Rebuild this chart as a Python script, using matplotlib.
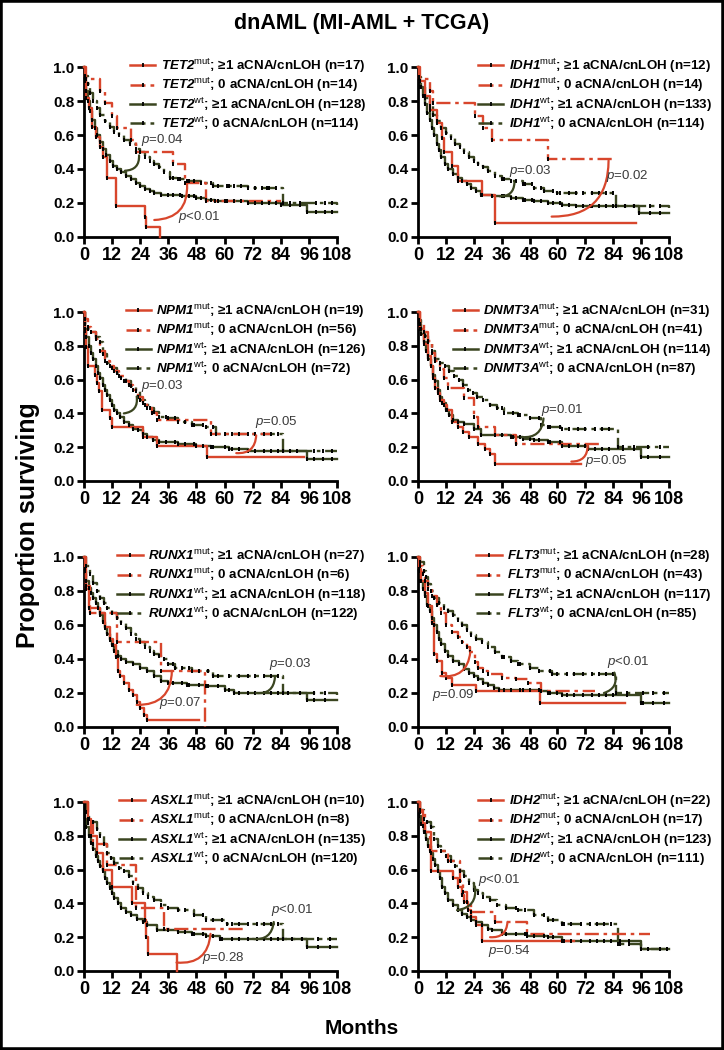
import matplotlib
matplotlib.use("Agg")
import matplotlib.pyplot as plt
import numpy as np
from matplotlib.lines import Line2D
from matplotlib.patches import Rectangle

plt.rcParams['font.family'] = ['Liberation Sans', 'DejaVu Sans']
plt.rcParams['mathtext.fontset'] = 'custom'
plt.rcParams['mathtext.rm'] = 'Liberation Sans'
plt.rcParams['mathtext.it'] = 'Liberation Sans:italic'
plt.rcParams['mathtext.bf'] = 'Liberation Sans:italic:bold'
plt.rcParams['mathtext.sf'] = 'Liberation Sans'

# panels, in reading order
genes = ['TET2', 'IDH1', 'NPM1', 'DNMT3A', 'RUNX1', 'FLT3', 'ASXL1', 'IDH2']
n_counts = [[17, 14, 128, 114], [12, 14, 133, 114], [19, 56, 126, 72], [31, 41, 114, 87],
            [27, 6, 118, 122], [28, 43, 117, 85], [10, 8, 135, 120], [22, 17, 123, 111]]

# KM curves per panel: [mut >=1, mut 0, wt >=1, wt 0]; last point = end of follow-up
tet2_t = [[0, 0.5, 1, 2, 3.5, 5, 7, 8, 10, 13.5, 26, 26.5, 32.5],
          [0, 1, 7, 9, 12, 14, 20, 22, 38, 43, 52, 84],
          [0, 0.5, 1, 1.5, 2.5, 3.5, 4.5, 5.5, 7, 8, 9.5, 11, 12.5, 14, 16, 18, 20, 22, 24, 26, 28, 30, 33, 36, 42, 48, 52, 56, 60, 70, 84, 95, 108],
          [0, 0.5, 1.5, 2.5, 4, 5.5, 7, 9, 11, 13, 15, 17, 19.5, 22, 24, 26, 28, 30, 32, 34, 36.5, 40, 44, 50, 55, 62, 70, 78, 85, 108]]
tet2_s = [[1, 0.94, 0.82, 0.76, 0.65, 0.59, 0.53, 0.47, 0.35, 0.18, 0.12, 0.06, 0.0],
          [1, 0.93, 0.86, 0.79, 0.71, 0.64, 0.57, 0.5, 0.43, 0.32, 0.21, 0.21],
          [1, 0.92, 0.86, 0.8, 0.74, 0.69, 0.64, 0.6, 0.56, 0.52, 0.48, 0.45, 0.42, 0.4, 0.38, 0.36, 0.34, 0.32, 0.3, 0.28, 0.27, 0.26, 0.25, 0.25, 0.24, 0.23, 0.22, 0.21, 0.21, 0.2, 0.19, 0.15, 0.15],
          [1, 0.95, 0.9, 0.85, 0.8, 0.76, 0.72, 0.68, 0.65, 0.62, 0.6, 0.57, 0.55, 0.52, 0.5, 0.47, 0.45, 0.43, 0.41, 0.38, 0.35, 0.34, 0.33, 0.32, 0.3, 0.3, 0.29, 0.29, 0.2, 0.19]]

idh1_t = [[0, 1, 3, 5, 8, 10.5, 11, 14.5, 17, 27.5, 33, 94],
          [0, 0.5, 5, 6.5, 24.5, 28, 32, 56, 85],
          [0, 0.5, 1, 2, 3, 4, 5, 6, 7, 8, 9, 10, 11.5, 13, 15, 17, 19, 21, 23, 25, 27, 32, 36, 40, 45, 50, 56, 62, 68, 74, 95, 108],
          [0, 0.5, 1.5, 3, 5, 6.5, 8, 10, 12, 14, 16, 18, 20, 22, 24, 26, 28, 30, 33, 36, 40, 45, 50, 54, 60, 85, 108]]
idh1_s = [[1, 0.92, 0.83, 0.75, 0.67, 0.58, 0.5, 0.42, 0.33, 0.25, 0.083, 0.083],
          [1, 0.93, 0.86, 0.79, 0.71, 0.64, 0.57, 0.46, 0.46],
          [1, 0.93, 0.88, 0.83, 0.78, 0.73, 0.69, 0.64, 0.6, 0.55, 0.51, 0.47, 0.43, 0.4, 0.37, 0.35, 0.33, 0.31, 0.29, 0.27, 0.25, 0.24, 0.24, 0.23, 0.22, 0.21, 0.2, 0.19, 0.18, 0.18, 0.14, 0.14],
          [1, 0.94, 0.88, 0.82, 0.77, 0.72, 0.68, 0.64, 0.61, 0.58, 0.55, 0.53, 0.5, 0.47, 0.45, 0.43, 0.41, 0.39, 0.36, 0.34, 0.33, 0.31, 0.29, 0.27, 0.26, 0.18, 0.17]]

npm1_t = [[0, 0.5, 1, 1.5, 4.5, 5.5, 6.5, 7.5, 11, 12, 25, 31, 52.5, 94],
          [0, 0.5, 1.5, 3, 5, 7, 9, 11, 13, 15, 17, 19, 21, 23, 25, 27, 29, 31, 54, 80],
          [0, 0.5, 1, 2, 3, 4, 5, 6, 7, 8, 9, 10, 11, 12, 13, 14, 15.5, 17, 19, 21, 23, 25, 27, 29.5, 32, 40, 48, 54, 62, 70, 95, 108],
          [0, 0.5, 1.5, 3, 5, 7, 8, 10, 12, 14, 16, 18, 20, 22, 24, 26, 28, 30, 32, 36, 40, 46, 52, 56.5, 85, 108]]
npm1_s = [[1, 0.89, 0.79, 0.68, 0.63, 0.58, 0.53, 0.42, 0.37, 0.32, 0.26, 0.21, 0.14, 0.14],
          [1, 0.96, 0.91, 0.88, 0.84, 0.77, 0.71, 0.68, 0.65, 0.62, 0.59, 0.57, 0.54, 0.5, 0.46, 0.43, 0.4, 0.36, 0.28, 0.28],
          [1, 0.9, 0.85, 0.8, 0.76, 0.72, 0.68, 0.64, 0.61, 0.57, 0.54, 0.51, 0.48, 0.45, 0.42, 0.4, 0.38, 0.35, 0.33, 0.31, 0.3, 0.28, 0.26, 0.24, 0.23, 0.22, 0.21, 0.2, 0.19, 0.18, 0.13, 0.13],
          [1, 0.93, 0.9, 0.88, 0.85, 0.82, 0.75, 0.7, 0.67, 0.64, 0.61, 0.59, 0.56, 0.53, 0.48, 0.45, 0.43, 0.41, 0.38, 0.37, 0.35, 0.33, 0.32, 0.28, 0.18, 0.18]]

dnmt3a_t = [[0, 1, 2.5, 4.5, 5.5, 6.5, 7.5, 8.5, 9.5, 11, 12.5, 14.5, 17, 19.5, 22, 26, 29, 31, 33, 70],
            [0, 1, 2.5, 4.5, 6, 7.5, 9.5, 11, 13, 20, 24, 26, 33, 42, 79],
            [0, 0.5, 1.5, 2.5, 3.5, 4.5, 5.5, 6.5, 7.5, 8.5, 9.5, 10.5, 12, 13.5, 15, 17, 20, 24, 27, 40, 45, 50, 56, 62, 73, 96, 108],
            [0, 0.5, 1.5, 3, 4.5, 6, 7.5, 9.5, 11.5, 13.5, 15.5, 17.5, 19.5, 21.5, 23.5, 25.5, 28, 31, 34, 37, 43, 48, 53, 56, 62, 86, 108]]
dnmt3a_s = [[1, 0.9, 0.81, 0.74, 0.68, 0.61, 0.55, 0.52, 0.48, 0.45, 0.42, 0.35, 0.32, 0.29, 0.26, 0.22, 0.19, 0.16, 0.1, 0.1],
            [1, 0.93, 0.88, 0.83, 0.76, 0.71, 0.66, 0.61, 0.55, 0.49, 0.38, 0.32, 0.27, 0.22, 0.22],
            [1, 0.93, 0.87, 0.82, 0.77, 0.72, 0.68, 0.63, 0.59, 0.54, 0.5, 0.46, 0.42, 0.39, 0.36, 0.35, 0.34, 0.31, 0.27, 0.26, 0.25, 0.24, 0.23, 0.21, 0.19, 0.14, 0.14],
            [1, 0.95, 0.9, 0.86, 0.82, 0.77, 0.72, 0.7, 0.68, 0.65, 0.62, 0.6, 0.57, 0.54, 0.52, 0.5, 0.48, 0.45, 0.43, 0.4, 0.39, 0.37, 0.33, 0.32, 0.31, 0.2, 0.2]]

runx1_t = [[0, 0.5, 1, 2, 7, 9, 11, 12.5, 13.5, 14.5, 15.5, 17, 19, 21, 22.5, 24, 25.5, 27, 49],
           [0, 1, 2.5, 14, 33, 51.5],
           [0, 0.5, 1, 2, 3, 4, 5, 6, 7, 8, 9, 10, 11, 12, 13, 14.5, 16, 18, 21, 24, 27, 30, 33, 36, 44, 52, 60, 64, 95, 108],
           [0, 1, 2.5, 4, 5.5, 7, 8.5, 10, 12, 14, 16, 18, 20, 22, 24, 26, 28, 30, 32, 34, 36, 39, 46, 55, 85, 108]]
runx1_s = [[1, 0.93, 0.81, 0.7, 0.67, 0.59, 0.52, 0.48, 0.41, 0.33, 0.3, 0.26, 0.22, 0.19, 0.15, 0.11, 0.07, 0.04, 0.04],
           [1, 0.83, 0.67, 0.5, 0.33, 0.0],
           [1, 0.92, 0.86, 0.82, 0.79, 0.76, 0.73, 0.7, 0.66, 0.62, 0.58, 0.55, 0.51, 0.48, 0.45, 0.42, 0.4, 0.38, 0.37, 0.35, 0.33, 0.3, 0.27, 0.26, 0.25, 0.24, 0.22, 0.2, 0.16, 0.16],
           [1, 0.95, 0.9, 0.85, 0.8, 0.76, 0.73, 0.7, 0.67, 0.64, 0.61, 0.58, 0.55, 0.52, 0.5, 0.47, 0.45, 0.43, 0.42, 0.4, 0.37, 0.35, 0.33, 0.3, 0.2, 0.19]]

flt3_t = [[0, 0.5, 1.5, 3, 4.5, 6, 6.8, 8, 10.5, 12, 14.5, 25, 52.5, 89],
          [0, 1, 2, 3, 4.5, 6, 8, 10, 12, 14.5, 17, 19, 21, 22.5, 24.5, 26, 28, 30, 36, 42, 47.5, 53, 76],
          [0, 0.5, 1, 2, 3, 4, 5, 6, 7, 8, 9, 10, 11.5, 13, 15, 17.5, 20, 22, 24, 26, 28, 30, 32.5, 35, 45, 53, 56, 62, 96, 108],
          [0, 1, 2.5, 3.5, 4.5, 5.5, 7, 9, 11, 13, 15, 17, 19, 21, 23, 25, 27.5, 30, 33, 36, 40, 43, 48, 52, 57.5, 85, 108]]
flt3_s = [[1, 0.93, 0.86, 0.79, 0.71, 0.61, 0.43, 0.39, 0.32, 0.29, 0.25, 0.21, 0.14, 0.14],
          [1, 0.95, 0.9, 0.86, 0.81, 0.77, 0.72, 0.67, 0.6, 0.56, 0.53, 0.5, 0.47, 0.44, 0.38, 0.35, 0.33, 0.31, 0.29, 0.28, 0.26, 0.21, 0.21],
          [1, 0.92, 0.86, 0.81, 0.77, 0.72, 0.68, 0.64, 0.6, 0.56, 0.52, 0.49, 0.45, 0.42, 0.39, 0.37, 0.34, 0.32, 0.3, 0.28, 0.26, 0.25, 0.23, 0.22, 0.22, 0.21, 0.2, 0.19, 0.14, 0.14],
          [1, 0.97, 0.92, 0.88, 0.84, 0.8, 0.76, 0.73, 0.7, 0.68, 0.66, 0.63, 0.6, 0.57, 0.54, 0.52, 0.5, 0.47, 0.44, 0.41, 0.39, 0.37, 0.35, 0.33, 0.31, 0.2, 0.2]]

asxl1_t = [[0, 1.5, 3, 5.5, 8, 12, 20.5, 26, 26.5, 27.5, 39.5],
           [0, 1.5, 4, 10, 22, 34, 69],
           [0, 0.5, 1, 2, 3, 4, 5, 6, 7, 8, 9, 10, 11, 12, 13, 14.5, 16, 18, 20, 22.5, 25, 27, 31, 40, 46, 52, 58, 95, 108],
           [0, 1, 2, 4, 5.5, 7, 8.5, 10, 11.5, 13, 15, 17, 19, 21, 23, 25, 27.5, 30, 33, 36, 40, 47, 52, 61, 85, 108]]
asxl1_s = [[1, 0.9, 0.8, 0.7, 0.6, 0.5, 0.4, 0.3, 0.2, 0.1, 0.0],
           [1, 0.875, 0.75, 0.625, 0.375, 0.25, 0.25],
           [1, 0.9, 0.85, 0.8, 0.76, 0.72, 0.68, 0.65, 0.62, 0.59, 0.55, 0.52, 0.49, 0.46, 0.43, 0.4, 0.37, 0.35, 0.33, 0.31, 0.29, 0.27, 0.24, 0.23, 0.22, 0.21, 0.19, 0.14, 0.14],
           [1, 0.94, 0.9, 0.88, 0.84, 0.8, 0.75, 0.7, 0.67, 0.64, 0.61, 0.59, 0.56, 0.52, 0.49, 0.46, 0.44, 0.42, 0.39, 0.37, 0.36, 0.33, 0.3, 0.28, 0.19, 0.19]]

idh2_t = [[0, 1, 2, 3, 5.5, 15, 17, 19, 20, 21.5, 23, 25, 27.5, 67],
          [0, 1, 3, 5, 13, 18, 19.5, 21, 23, 33, 47, 100],
          [0, 0.5, 1.5, 2.5, 3.5, 4.5, 5.5, 6.5, 7.5, 8.5, 9.5, 10.5, 11.5, 13, 15, 17, 19, 21, 23, 25, 27.5, 30, 32, 36, 47, 56, 62, 96, 108],
          [0, 1, 2.5, 4, 5.5, 7, 8.5, 10, 12, 14, 16, 18, 20, 22, 24, 26, 28, 31, 34, 38, 43, 50, 56, 62, 86, 96, 108]]
idh2_s = [[1, 0.95, 0.86, 0.82, 0.59, 0.55, 0.5, 0.45, 0.41, 0.36, 0.32, 0.27, 0.18, 0.18],
          [1, 0.94, 0.82, 0.71, 0.65, 0.53, 0.47, 0.41, 0.35, 0.29, 0.22, 0.22],
          [1, 0.92, 0.87, 0.82, 0.78, 0.74, 0.7, 0.66, 0.63, 0.59, 0.55, 0.5, 0.46, 0.42, 0.39, 0.36, 0.34, 0.32, 0.3, 0.29, 0.27, 0.25, 0.24, 0.22, 0.21, 0.2, 0.18, 0.13, 0.13],
          [1, 0.95, 0.9, 0.88, 0.85, 0.78, 0.74, 0.71, 0.68, 0.65, 0.62, 0.59, 0.56, 0.52, 0.48, 0.46, 0.44, 0.42, 0.39, 0.37, 0.36, 0.33, 0.3, 0.28, 0.16, 0.13, 0.13]]

panel_t = [tet2_t, idh1_t, npm1_t, dnmt3a_t, runx1_t, flt3_t, asxl1_t, idh2_t]
panel_s = [tet2_s, idh1_s, npm1_s, dnmt3a_s, runx1_s, flt3_s, asxl1_s, idh2_s]

# censored observations on the wt curves (months)
cens_wt = [[38, 41, 45, 47, 50, 54, 57, 61, 64, 67, 70, 73, 76, 79, 82, 88, 92, 99, 103, 106],
           [37, 42, 46, 49, 53, 58, 61, 65, 68, 71, 75, 78, 81, 84, 89, 93, 100, 104],
           [35, 39, 43, 47, 51, 55, 60, 63, 66, 70, 73, 77, 80, 83, 88, 91, 98, 102, 106],
           [36, 41, 44, 48, 52, 57, 61, 65, 69, 72, 76, 79, 82, 88, 93, 99, 104],
           [38, 42, 45, 49, 53, 57, 62, 66, 70, 73, 77, 80, 83, 87, 92, 98, 103],
           [37, 40, 44, 48, 52, 57, 60, 64, 67, 71, 75, 78, 81, 84, 90, 97, 101, 106],
           [36, 40, 43, 47, 51, 55, 59, 63, 66, 70, 74, 77, 80, 83, 89, 93, 100, 105],
           [38, 42, 46, 50, 54, 58, 63, 66, 70, 74, 77, 80, 83, 87, 91, 99, 104, 107]]

# p-value brackets: [wt comparison, mut comparison] -> (x1, y1, x2, y2)
arc_wt = [(17.5, 0.39, 23.5, 0.48), (35, 0.24, 41.5, 0.32), (17, 0.4, 22.5, 0.5), (44.5, 0.26, 54, 0.37),
          (73.5, 0.2, 81.5, 0.29), (80, 0.2, 84.5, 0.32), (72, 0.19, 81, 0.29), (16.8, 0.36, 24.5, 0.5)]
arc_mut = [(30, 0.1, 44, 0.31), (57.5, 0.12, 82, 0.45), (65, 0.165, 73.5, 0.27), (66, 0.115, 73, 0.21),
           (22.5, 0.13, 37.5, 0.33), (9.6, 0.3, 22.5, 0.44), (39.5, 0.05, 54, 0.22), (31, 0.2, 38.5, 0.29)]
p_wt = ['=0.04', '=0.03', '=0.03', '=0.01', '=0.03', '<0.01', '<0.01', '<0.01']
p_mut = ['<0.01', '=0.02', '=0.05', '=0.05', '=0.07', '=0.09', '=0.28', '=0.54']
p_wt_pos = [(24.5, 0.57), (39, 0.39), (24.5, 0.56), (53, 0.42), (79, 0.37), (81.5, 0.38), (80, 0.36), (26, 0.54)]
p_mut_pos = [(40, 0.12), (81, 0.36), (73, 0.35), (72, 0.12), (32, 0.14), (6, 0.19), (50.5, 0.075), (30, 0.12)]

RED = '#d8462c'
OLIVE = '#3a4520'
colors = [RED, RED, OLIVE, OLIVE]
dashdot = (0, (6, 2, 1.5, 2))
styles = ['-', dashdot, '-', dashdot]

fig = plt.figure(figsize=(7.24, 10.5), dpi=100)
W, H = 724.0, 1050.0
rows_px = [(67, 237), (312, 481), (557, 727), (802, 971)]
cols_px = [(84, 337), (418, 669)]

for k, gene in enumerate(genes):
    r, c = divmod(k, 2)
    top, bot = rows_px[r]
    x0, x1 = cols_px[c]
    ax = fig.add_axes([x0 / W, 1 - bot / H, (x1 - x0) / W, (bot - top) / H])

    order = [2, 3, 0, 1]
    for j in order:
        t = panel_t[k][j]
        s = panel_s[k][j]
        ax.step(t, s, where='post', color=colors[j], ls=styles[j], lw=1.7,
                clip_on=False, zorder=3 if j < 2 else 2)
        ax.plot(t[1:-1], s[1:-1], ls='none', marker='|', ms=3.5, mew=1.4,
                color='black', clip_on=False, zorder=4)
        if j >= 2:
            ct = [x for x in cens_wt[k] if x < t[-1]]
            idx = np.searchsorted(t, ct, side='right') - 1
            ax.plot(ct, np.array(s)[idx], ls='none', marker='|', ms=3.5, mew=1.4,
                    color='black', clip_on=False, zorder=4)

    # p-value brackets
    for arc, col in [(arc_wt[k], OLIVE), (arc_mut[k], RED)]:
        ax.annotate('', xy=(arc[2], arc[3]), xytext=(arc[0], arc[1]),
                    arrowprops=dict(arrowstyle='-', color=col, lw=1.6,
                                    connectionstyle='arc3,rad=0.5',
                                    shrinkA=0, shrinkB=0), zorder=5)
    for txt, pos in [(p_wt[k], p_wt_pos[k]), (p_mut[k], p_mut_pos[k])]:
        ax.text(pos[0], pos[1], r'$\mathit{p}$' + txt, fontsize=9.5, color='#3a3a3a',
                ha='left', va='center', zorder=6)

    ax.set_xlim(0, 108)
    ax.set_ylim(0, 1)
    ax.set_xticks(np.arange(0, 109, 12))
    ax.set_yticks([0, 0.2, 0.4, 0.6, 0.8, 1.0])
    ax.set_yticklabels(['0.0', '0.2', '0.4', '0.6', '0.8', '1.0'])
    for lab in ax.get_xticklabels():
        lab.set_fontweight('bold')
        lab.set_fontsize(13)
    for lab in ax.get_yticklabels():
        lab.set_fontweight('bold')
        lab.set_fontsize(11)
    ax.tick_params(width=2, length=5, direction='out', pad=2)
    for sp in ['top', 'right']:
        ax.spines[sp].set_visible(False)
    for sp in ['left', 'bottom']:
        ax.spines[sp].set_linewidth(2)

    handles = []
    labels = []
    tags = ['mut', 'mut', 'wt', 'wt']
    groups = ['≥1', '0', '≥1', '0']
    for j in range(4):
        handles.append(Line2D([], [], color=colors[j], ls=styles[j], lw=1.8,
                              marker='|', ms=3.5, mew=1.3, mec='black'))
        labels.append(r'$\mathbf{%s}^{\mathsf{%s}}$; %s aCNA/cnLOH (n=%d)'
                      % (gene, tags[j], groups[j], n_counts[k][j]))
    anchor_x = 1.115 if c == 0 else 1.17
    ax.legend(handles, labels, loc='upper right', bbox_to_anchor=(anchor_x, 1.06),
              frameon=False, prop={'weight': 'bold', 'size': 9.6}, numpoints=1,
              handlelength=1.9, handletextpad=0.4, labelspacing=0.08,
              borderpad=0, borderaxespad=0)

fig.text(0.5, 1 - 24 / H, 'dnAML (MI-AML + TCGA)', ha='center', va='center',
         fontsize=15.5, fontweight='bold')
fig.text(28 / W, 0.5, 'Proportion surviving', rotation=90, ha='center', va='center',
         fontsize=18, fontweight='bold')
fig.text(0.5, 1 - 1029 / H, 'Months', ha='center', va='center',
         fontsize=15, fontweight='bold')

fig.patches.append(Rectangle((0, 0), 1, 1, transform=fig.transFigure, fill=False,
                             lw=4, ec='black'))

fig.savefig('out.png', dpi=100)
